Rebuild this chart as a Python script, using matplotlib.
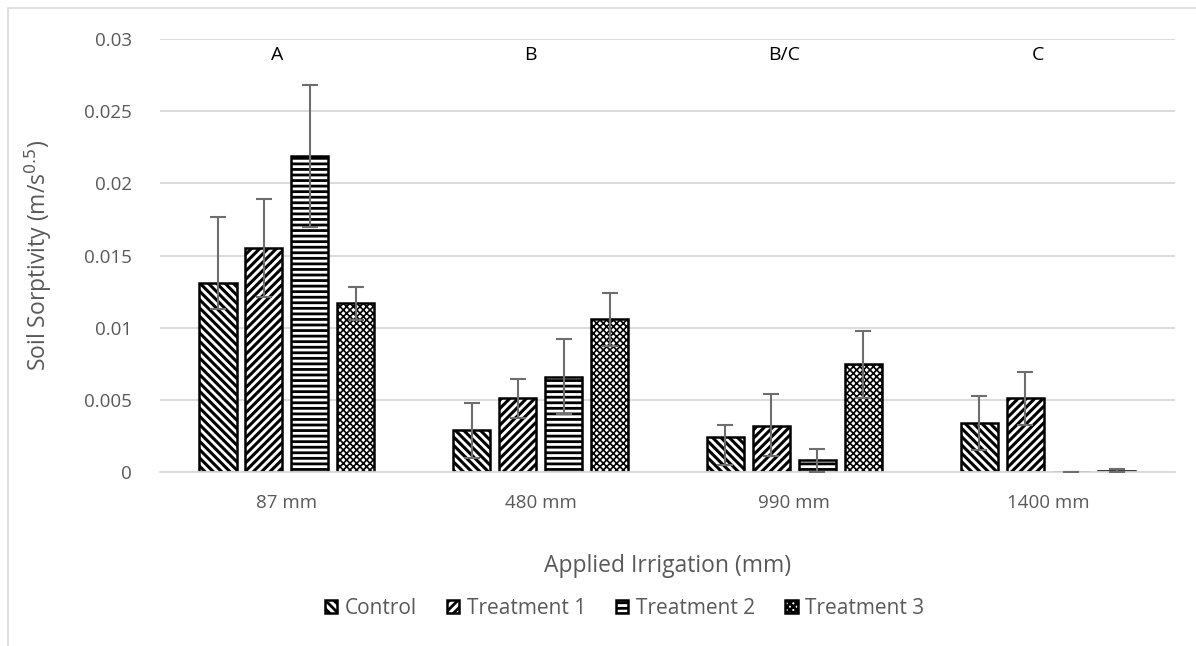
import numpy as np
import matplotlib.pyplot as plt
from matplotlib.patches import Rectangle

plt.rcParams['font.family'] = ['Open Sans', 'DejaVu Sans']
plt.rcParams['hatch.linewidth'] = 2.0
plt.rcParams['hatch.color'] = 'black'

categories = ['87 mm', '480 mm', '990 mm', '1400 mm']
series = ['Control', 'Treatment 1', 'Treatment 2', 'Treatment 3']
control = [0.0131, 0.0029, 0.0024, 0.0034]
treat1 = [0.0155, 0.0051, 0.0032, 0.0051]
treat2 = [0.0219, 0.0066, 0.0008, 0.00003]
treat3 = [0.0117, 0.0106, 0.0075, 0.0001]
# error bar extents: (upper, lower)
control_err = [(0.00455, 0.0018), (0.00185, 0.0019), (0.00083, 0.0019), (0.0019, 0.0019)]
treat1_err = [(0.0034, 0.0034), (0.00136, 0.00133), (0.0022, 0.0021), (0.00185, 0.00185)]
treat2_err = [(0.0049, 0.0049), (0.0026, 0.0026), (0.00077, 0.00077), (0.0, 0.0)]
treat3_err = [(0.00115, 0.00115), (0.00183, 0.00185), (0.0023, 0.0024), (0.0001, 0.0001)]
group_letters = ['A', 'B', 'B/C', 'C']

values = [control, treat1, treat2, treat3]
errors = [control_err, treat1_err, treat2_err, treat3_err]
hatches = ['\\' * 4, '/' * 4, '-' * 3, 'x' * 5]
hatch_lw = [2.2, 2.2, 2.0, 1.2]

grey = '#595959'
fig = plt.figure(figsize=(11.96, 6.46), dpi=100)
ax = fig.add_axes([0.1338, 0.2693, 0.8486, 0.6703])

x = np.arange(len(categories))
width = 0.146
step = 0.181
for i, (vals, errs, h, name) in enumerate(zip(values, errors, hatches, series)):
    pos = x + (i - 1.5) * step
    bars = ax.bar(pos, vals, width, facecolor='white', edgecolor='black',
                  linewidth=1.8, hatch=h, label=name, zorder=2)
    for b in bars:
        if hasattr(b, 'set_hatch_linewidth'):
            b.set_hatch_linewidth(hatch_lw[i])
    upper = [e[0] for e in errs]
    lower = [e[1] for e in errs]
    ax.errorbar(pos, vals, yerr=[lower, upper], fmt='none', ecolor='#6e6e6e',
                elinewidth=1.5, capsize=6, capthick=1.5, zorder=3)

for xi, letter in zip(x, group_letters):
    ax.text(xi - 0.04, 0.0289, letter, ha='center', va='center',
            fontsize=14, color='black')

ax.set_xlim(-0.5, 3.5)
ax.set_ylim(0, 0.03)
ax.set_yticks(np.arange(0, 0.0301, 0.005))
ax.set_yticklabels(['0', '0.005', '0.01', '0.015', '0.02', '0.025', '0.03'])
ax.set_xticks(x)
ax.set_xticklabels(categories)
ax.tick_params(axis='both', length=0, colors=grey, labelsize=13.5)
ax.tick_params(axis='x', pad=16)
ax.tick_params(axis='y', pad=20)
ax.grid(axis='y', color='#d9d9d9', linewidth=1.3, zorder=0)
ax.set_axisbelow(True)
for s in ['top', 'right', 'left']:
    ax.spines[s].set_visible(False)
ax.spines['bottom'].set_color('#d9d9d9')
ax.spines['bottom'].set_linewidth(1.3)

ax.set_xlabel('Applied Irrigation (mm)', fontsize=16.5, color=grey, labelpad=30)
ax.set_ylabel('Soil Sorptivity (m/s$^{0.5}$)', fontsize=16.5, color=grey, labelpad=22)

fig.legend(loc='center', bbox_to_anchor=(0.522, 1 - 608 / 646), ncol=4,
           frameon=False, fontsize=15, handlelength=0.6, handleheight=0.6,
           handletextpad=0.35, columnspacing=1.45, labelcolor=grey)

# light frame around the chart area
fig.patches.append(Rectangle((8 / 1196, -0.2), 1.2, (646 - 8) / 646 + 0.2,
                             transform=fig.transFigure, fill=False,
                             edgecolor='#d9d9d9', linewidth=1.2))

fig.savefig('out.png', dpi=100)
